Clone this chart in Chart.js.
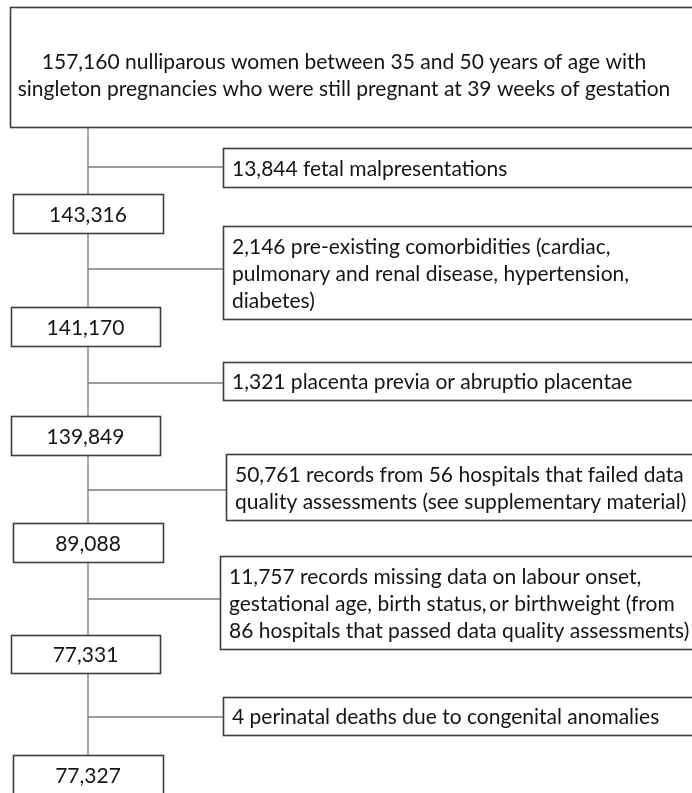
<!DOCTYPE html>
<html>
<head>
<meta charset="utf-8">
<script src="https://cdn.jsdelivr.net/npm/chart.js@4.4.1/dist/chart.umd.min.js"></script>
<style>
  html, body { margin: 0; padding: 0; background: #fff; }
  #wrap { width: 692px; height: 793px; }
</style>
</head>
<body>
<div id="wrap"><canvas id="flow" width="692" height="793"></canvas></div>
<script>
// cohort text
const startLines = [
  '157,160 nulliparous women between 35 and 50 years of age with',
  'singleton pregnancies who were still pregnant at 39 weeks of gestation'
];
const remaining = ['143,316', '141,170', '139,849', '89,088', '77,331', '77,327'];
const exclusions = [
  ['13,844 fetal malpresentations'],
  ['2,146 pre-existing comorbidities (cardiac,', 'pulmonary and renal disease, hypertension,', 'diabetes)'],
  ['1,321 placenta previa or abruptio placentae'],
  ['50,761 records from 56 hospitals that failed data', 'quality assessments (see supplementary material)'],
  ['11,757 records missing data on labour onset,', 'gestational age, birth status,\u2009or birthweight (from', '86 hospitals that passed data quality assessments)'],
  ['4 perinatal deaths due to congenital anomalies']
];

// layout in scale units (0..692 across, 0..793 down)
const startBox = { x0: 10, x1: 710, y0: 7, y1: 127, tx: 344, ty: 76 };
const trunkX = 88;
const leftX0 = [13, 11, 11, 13, 11, 13];
const leftX1 = [163, 160, 160, 163, 160, 163];
const leftY0 = [194, 307, 416, 523, 635, 755];
const leftY1 = [233, 346, 455, 562, 673, 795];
const exX0 = [223, 223, 223, 226, 220, 223];
const exY0 = [148, 226, 362, 454, 556, 697];
const exY1 = [187, 319, 400, 520, 649, 735];
const branchY = [167, 269, 383, 490, 599, 717];
const exX1 = 710;

const FONT = '21px Lato';
const LINE_H = 27;
const BOX_COLOR = '#3d3d3d';
const LINK_COLOR = '#7a7a7a';
const TEXT_COLOR = '#151515';

// connectors as line datasets
const datasets = [{
  data: [{ x: trunkX, y: startBox.y1 }, { x: trunkX, y: leftY0[leftY0.length - 1] }],
  borderColor: LINK_COLOR, borderWidth: 1.3, pointRadius: 0, showLine: true
}];
branchY.forEach((by, i) => {
  datasets.push({
    data: [{ x: trunkX, y: by }, { x: exX0[i], y: by }],
    borderColor: LINK_COLOR, borderWidth: 1.3, pointRadius: 0, showLine: true
  });
});

const boxPlugin = {
  id: 'flowBoxes',
  afterDatasetsDraw(chart) {
    const { ctx, scales: { x, y } } = chart;
    const px = v => Math.round(x.getPixelForValue(v)) + 0.5;
    const py = v => Math.round(y.getPixelForValue(v)) + 0.5;

    function drawBox(x0, x1, y0, y1, lines, align, tx, ty) {
      const l = px(x0), r = px(x1), t = py(y0), b = py(y1);
      ctx.save();
      ctx.fillStyle = '#fff';
      ctx.fillRect(l, t, r - l, b - t);
      ctx.strokeStyle = BOX_COLOR;
      ctx.lineWidth = 1.6;
      ctx.strokeRect(l, t, r - l, b - t);
      ctx.fillStyle = TEXT_COLOR;
      ctx.font = FONT;
      ctx.textAlign = align;
      ctx.textBaseline = 'middle';
      const cy = ty !== undefined ? y.getPixelForValue(ty) : (t + b) / 2 + 1;
      const first = cy - (lines.length - 1) / 2 * LINE_H;
      lines.forEach((s, k) => ctx.fillText(s, x.getPixelForValue(tx), first + k * LINE_H));
      ctx.restore();
    }

    drawBox(startBox.x0, startBox.x1, startBox.y0, startBox.y1, startLines, 'center', startBox.tx, startBox.ty);
    remaining.forEach((s, i) => {
      drawBox(leftX0[i], leftX1[i], leftY0[i], leftY1[i], [s], 'center', (leftX0[i] + leftX1[i]) / 2);
    });
    exclusions.forEach((lines, i) => {
      drawBox(exX0[i], exX1, exY0[i], exY1[i], lines, 'left', exX0[i] + 9);
    });
  }
};

function build() {
  new Chart(document.getElementById('flow'), {
    type: 'scatter',
    data: { datasets: datasets },
    options: {
      responsive: false,
      animation: false,
      layout: { padding: 0 },
      plugins: { legend: { display: false }, tooltip: { enabled: false } },
      scales: {
        x: { type: 'linear', min: 0, max: 692, display: false },
        y: { type: 'linear', min: 0, max: 793, reverse: true, display: false }
      }
    },
    plugins: [boxPlugin]
  });
}

if (document.fonts && document.fonts.load) {
  document.fonts.load(FONT).then(build, build);
} else {
  build();
}
</script>
</body>
</html>
